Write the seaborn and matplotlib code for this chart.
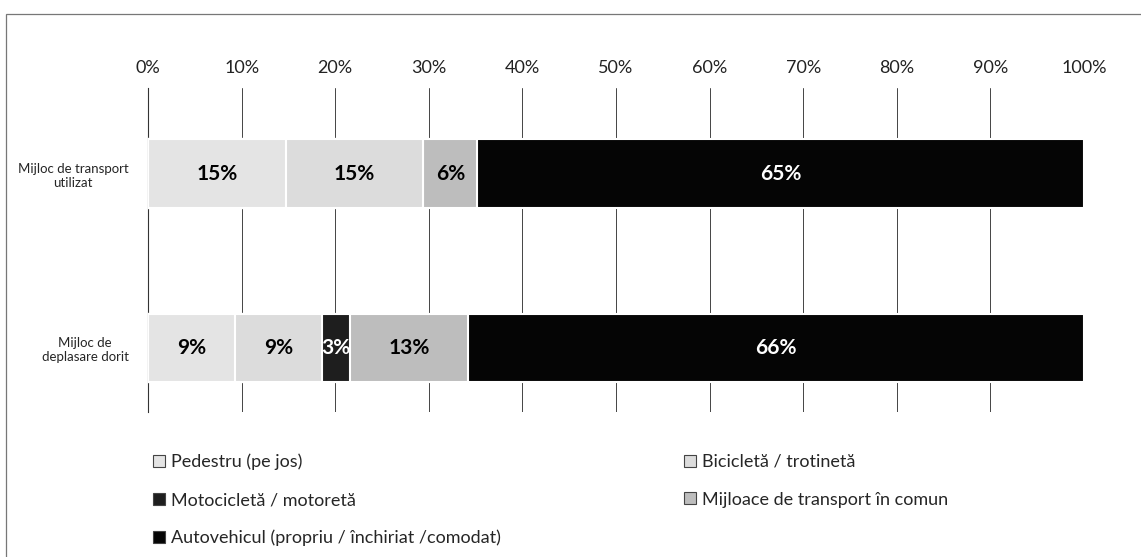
import seaborn as sns
import matplotlib.pyplot as plt
import matplotlib.patches as mpatches
import pandas as pd

# rows of the chart
rows = ['Mijloc de transport\nutilizat', 'Mijloc de\ndeplasare dorit']
# categories (stack order) and share per row, in %
categories = ['Pedestru (pe jos)', 'Bicicletă / trotinetă', 'Motocicletă / motoretă',
              'Mijloace de transport în comun', 'Autovehicul (propriu / închiriat /comodat)']
pedestru = [14.7, 9.3]
bicicleta = [14.7, 9.3]
motocicleta = [0.0, 3.0]
transport_comun = [5.8, 12.6]
autovehicul = [64.8, 65.8]
colors = ['#e4e4e4', '#dcdcdc', '#1e1e1e', '#bdbdbd', '#050505']
text_colors = ['black', 'black', 'white', 'black', 'white']
xticks = [0, 10, 20, 30, 40, 50, 60, 70, 80, 90, 100]

series = [pedestru, bicicleta, motocicleta, transport_comun, autovehicul]
df = pd.DataFrame({'row': rows})
cum = [0.0, 0.0]
lefts = []
for cat, vals in zip(categories, series):
    lefts.append(list(cum))
    cum = [c + v for c, v in zip(cum, vals)]
    df[cat] = cum

sns.set_style('white')
plt.rcParams['font.family'] = ['Lato', 'DejaVu Sans']

fig = plt.figure(figsize=(11.41, 5.57), dpi=100)
ax = fig.add_axes([0.1297, 0.2603, 0.8203, 0.5817])

# stacked bars: draw cumulative totals from the last category to the first
for cat, col in reversed(list(zip(categories, colors))):
    sns.barplot(data=df, x=cat, y='row', color=col, orient='h', width=0.395,
                edgecolor='white', linewidth=1.5, ax=ax, zorder=3)

# value labels
for i in range(len(rows)):
    for k, vals in enumerate(series):
        if vals[i] <= 0:
            continue
        ax.text(lefts[k][i] + vals[i] / 2, i, f'{vals[i]:.0f}%', ha='center', va='center',
                fontsize=15, fontweight='bold', color=text_colors[k], zorder=5)

ax.set_xlim(0, 100)
ax.set_ylim(1.367, -0.49)
ax.xaxis.tick_top()
ax.set_xticks(xticks)
ax.set_xticklabels([f'{t}%' for t in xticks], fontsize=13, color='#222')
ax.tick_params(axis='x', length=0, pad=9)
ax.tick_params(axis='y', length=0, pad=14)
for lab in ax.get_yticklabels():
    lab.set_fontsize(9.5)
    lab.set_multialignment('center')
ax.set_xlabel('')
ax.set_ylabel('')
ax.grid(axis='x', color='#444444', linewidth=0.7, zorder=0)
ax.set_axisbelow(True)
for s in ['top', 'right', 'bottom']:
    ax.spines[s].set_visible(False)
ax.spines['left'].set_color('#333333')
ax.spines['left'].set_linewidth(0.8)

# legend in two columns
handles = [mpatches.Patch(facecolor=c, edgecolor='#444', linewidth=0.8) for c in colors]
leg_kw = dict(frameon=False, fontsize=13, handlelength=0.65, handleheight=0.65,
              handletextpad=0.35, labelspacing=1.2, loc='upper left', borderaxespad=0)
fig.legend([handles[0], handles[2], handles[4]],
           [categories[0], categories[2], categories[4]],
           bbox_to_anchor=(0.128, 0.198), **leg_kw)
fig.legend([handles[1], handles[3]], [categories[1], categories[3]],
           bbox_to_anchor=(0.593, 0.198), **leg_kw)

# outer frame
fig.patches.append(mpatches.Rectangle((0.005, -0.01), 1.0, 0.985, transform=fig.transFigure,
                                      fill=False, edgecolor='#777777', linewidth=0.9))

fig.savefig('out.png', dpi=100)
